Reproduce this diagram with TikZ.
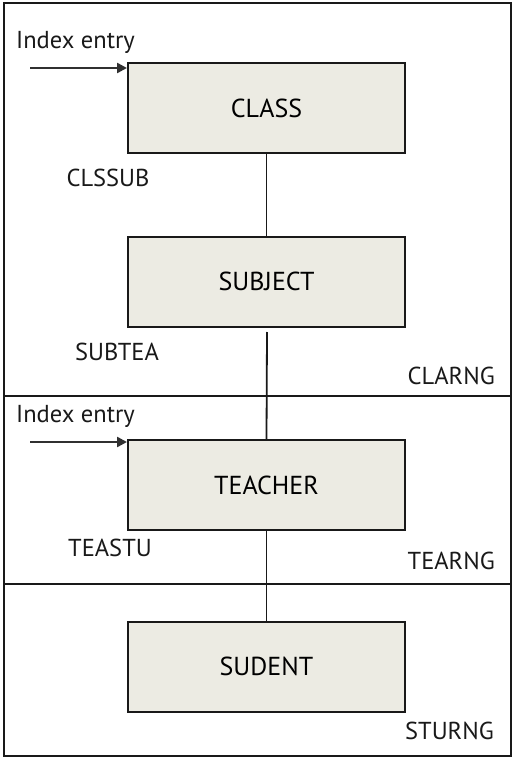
\documentclass[tikz,border=0pt]{standalone}
\usepackage{fontspec}
\setmainfont{PT Sans}
\usetikzlibrary{arrows.meta}
\definecolor{boxfill}{RGB}{236,235,227}
\definecolor{ink}{RGB}{25,25,25}
\begin{document}
\begin{tikzpicture}[x=1pt,y=-1pt,
  frame/.style={draw=ink,line width=2pt},
  divider/.style={draw=ink,line width=1.6pt},
  entity/.style={draw=ink,fill=boxfill,line width=2pt,minimum width=277pt,minimum height=90pt,inner sep=0pt,font=\fontsize{26}{30}\selectfont},
  lbl/.style={font=\fontsize{24.5}{28}\selectfont,inner sep=0pt,text=ink},
  link/.style={draw=ink,line width=1.8pt},
  entry/.style={draw=ink!90,line width=2.4pt,-{Triangle[length=10pt,width=10pt]}}]
\useasboundingbox (0,0) rectangle (516,759);
\draw[frame] (4,3) rectangle (511,756);
\draw[divider] (4,396) -- (511,396);
\draw[divider] (4,584) -- (511,584);
\node[entity] (class) at (266.5,108) {CLASS};
\node[entity] (subject) at (266.5,281.5) {SUBJECT};
\node[entity] (teacher) at (266.5,485) {TEACHER};
\node[entity] (student) at (266.5,666.5) {SUDENT};
\coordinate (s2) at (267,332);
\draw[link] (class.south) -- (subject.north);
\draw[link] (s2) -- (teacher.north);
\draw[link] (teacher.south) -- (student.north);
\coordinate (e1) at (30,68);
\coordinate (e2) at (30,442);
\draw[entry] (e1) -- (class.north west |- e1);
\draw[entry] (e2) -- (teacher.north west |- e2);
\node[lbl,anchor=west] (ie1) at (16,42) {Index entry};
\node[lbl,anchor=west] (ie2) at (16,416) {Index entry};
\node[lbl] (clssub) at (108,178) {CLSSUB};
\node[lbl] (subtea) at (117,352) {SUBTEA};
\node[lbl,anchor=east] (clarng) at (495,376) {CLARNG};
\node[lbl] (teastu) at (110,548) {TEASTU};
\node[lbl,anchor=east] (tearng) at (495,561) {TEARNG};
\node[lbl,anchor=east] (sturng) at (494,731) {STURNG};
\end{tikzpicture}
\end{document}
